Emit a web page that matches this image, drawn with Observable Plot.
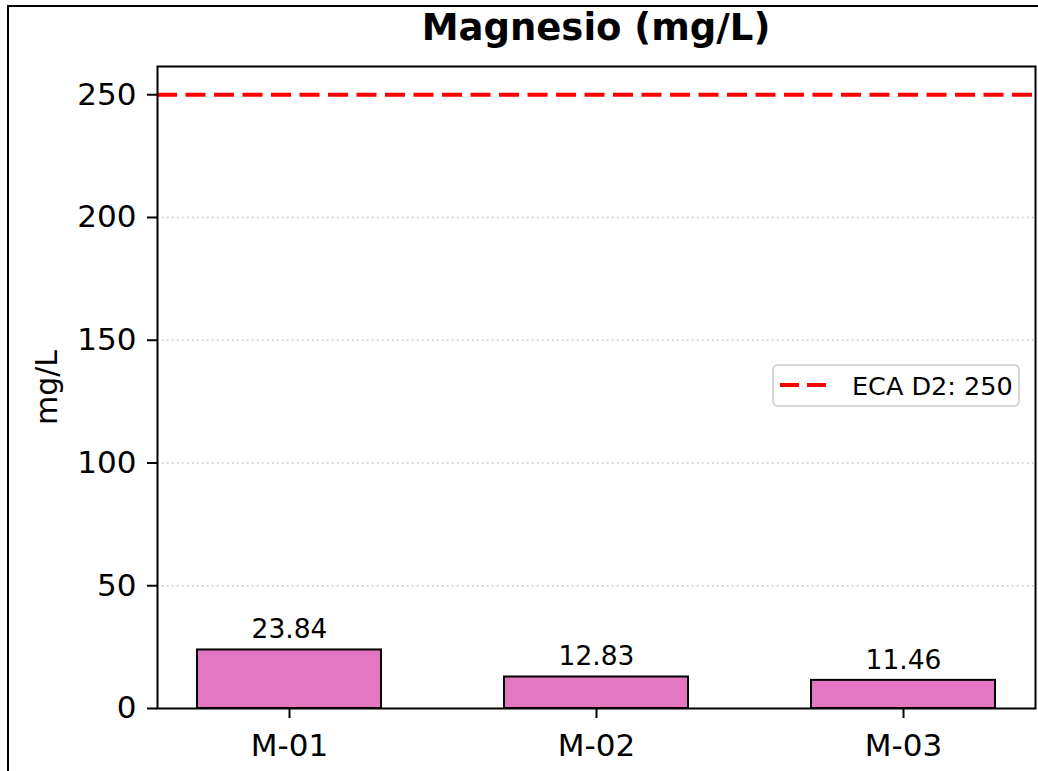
<!DOCTYPE html>
<html>
<head>
<meta charset="utf-8">
<script src="https://cdn.jsdelivr.net/npm/d3@7"></script>
<script src="https://cdn.jsdelivr.net/npm/@observablehq/plot@0.6"></script>
<style>
  body { margin: 0; background: #fff; overflow: hidden; font-family: "DejaVu Sans", sans-serif; }
  #wrap { position: relative; width: 1038px; height: 771px; overflow: hidden; background: #fff; }
  #border { position: absolute; left: 7px; top: 5px; width: 1200px; height: 900px;
            border-top: 2px solid #000; border-left: 2px solid #000; pointer-events: none; }
  #title { position: relative; height: 50px; line-height: 50px; box-sizing: border-box;
           padding-left: 157px; padding-right: 3px; text-align: center;
           font-weight: bold; font-size: 37px; color: #000; top: 3px; }
  #chart { height: 721px; }
  #legend { position: absolute; left: 772px; top: 364px; width: 248px; height: 43px; box-sizing: border-box;
            border: 2px solid #d6d6d6; border-radius: 6px; background: rgba(255,255,255,0.85); }
  #legend svg { position: absolute; left: 4px; top: 15px; }
  #legend span { position: absolute; left: 78px; top: 4px; font-size: 25.5px; line-height: 32px; color: #000; white-space: nowrap; }
</style>
</head>
<body>
<div id="wrap">
  <div id="title"></div>
  <div id="chart"></div>
  <div id="legend"></div>
  <div id="border"></div>
</div>
<script>
const chartTitle = "Magnesio (mg/L)";
const yLabel = "mg/L";
const categories = ["M-01", "M-02", "M-03"];
const values = [23.84, 12.83, 11.46];
const limitValue = 250;
const limitLabel = "ECA D2: 250";
const yTicks = [0, 50, 100, 150, 200, 250];
const gridTicks = [50, 100, 150, 200];

const data = categories.map((c, i) => ({category: c, value: values[i]}));

document.getElementById("title").textContent = chartTitle;

const chart = Plot.plot({
  width: 1038,
  height: 721,
  marginTop: 16,
  marginBottom: 63,
  marginLeft: 157,
  marginRight: 3,
  style: {fontFamily: "DejaVu Sans, sans-serif", color: "#000", background: "transparent"},
  x: {domain: categories, paddingInner: 0.4, paddingOuter: 0.129, label: null},
  y: {domain: [0, 261.5], label: null},
  marks: [
    Plot.gridY(gridTicks, {stroke: "#c4c4c4", strokeOpacity: 1, strokeWidth: 1.5, strokeDasharray: "1.5,3.5"}),
    Plot.barY(data, {x: "category", y: "value", fill: "#e377c2", stroke: "#000", strokeWidth: 2}),
    Plot.ruleY([limitValue], {stroke: "#ff0000", strokeWidth: 4, strokeDasharray: "20,8.5"}),
    Plot.text(data, {x: "category", y: "value", text: d => d.value.toFixed(2), dy: -20, fontSize: 26.5, fill: "#000"}),
    Plot.axisY(yTicks, {tickSize: 10, tickPadding: 11, fontSize: 31, strokeWidth: 2, label: null}),
    Plot.axisX({tickSize: 10, tickPadding: 15, fontSize: 31, strokeWidth: 2, label: null}),
    Plot.text([yLabel], {frameAnchor: "left", textAnchor: "middle", dx: -110, rotate: -90, fontSize: 30, fill: "#000"}),
    Plot.frame({stroke: "#000", strokeWidth: 2})
  ]
});
document.getElementById("chart").appendChild(chart);

// legend
const leg = document.getElementById("legend");
const svgNS = "http://www.w3.org/2000/svg";
const ls = document.createElementNS(svgNS, "svg");
ls.setAttribute("width", "50");
ls.setAttribute("height", "10");
const ln = document.createElementNS(svgNS, "line");
ln.setAttribute("x1", "2"); ln.setAttribute("x2", "48");
ln.setAttribute("y1", "4"); ln.setAttribute("y2", "4");
ln.setAttribute("stroke", "#ff0000");
ln.setAttribute("stroke-width", "4");
ln.setAttribute("stroke-dasharray", "19,8");
ls.appendChild(ln);
leg.appendChild(ls);
const sp = document.createElement("span");
sp.textContent = limitLabel;
leg.appendChild(sp);
</script>
</body>
</html>
